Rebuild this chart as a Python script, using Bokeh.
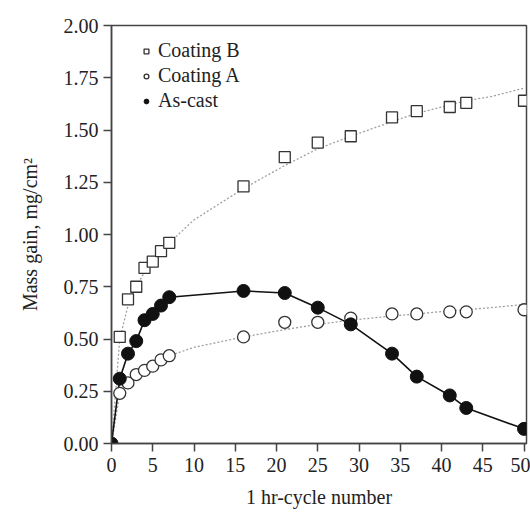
from bokeh.plotting import figure
from bokeh.models import Legend, LegendItem, FixedTicker, NumeralTickFormatter, Range1d
from bokeh.embed import file_html
from bokeh.resources import INLINE

# ---- data ----
cycles = [0, 1, 2, 3, 4, 5, 6, 7, 16, 21, 25, 29, 34, 37, 41, 43, 50]
coating_b = [None, 0.51, 0.69, 0.75, 0.84, 0.87, 0.92, 0.96, 1.23, 1.37, 1.44, 1.47, 1.56, 1.59, 1.61, 1.63, 1.64]
coating_a = [None, 0.24, 0.29, 0.33, 0.35, 0.37, 0.40, 0.42, 0.51, 0.58, 0.58, 0.60, 0.62, 0.62, 0.63, 0.63, 0.64]
as_cast = [0.0, 0.31, 0.43, 0.49, 0.59, 0.62, 0.66, 0.70, 0.73, 0.72, 0.65, 0.57, 0.43, 0.32, 0.23, 0.17, 0.07]

# dotted trend curves
fit_x = [0, 1, 2, 3, 4, 5, 6, 7, 10, 16, 21, 25, 29, 34, 37, 41, 43, 46, 50]
fit_b = [0, 0.50, 0.66, 0.75, 0.82, 0.87, 0.92, 0.96, 1.07, 1.22, 1.33, 1.41, 1.47, 1.54, 1.58, 1.62, 1.64, 1.66, 1.70]
fit_a = [0, 0.24, 0.29, 0.33, 0.35, 0.38, 0.40, 0.42, 0.46, 0.51, 0.545, 0.57, 0.59, 0.61, 0.62, 0.635, 0.64, 0.65, 0.665]

x_ticks = [0, 5, 10, 15, 20, 25, 30, 35, 40, 45, 50]
y_ticks = [0.0, 0.25, 0.5, 0.75, 1.0, 1.25, 1.5, 1.75, 2.0]

FONT = "'Liberation Serif', 'Times New Roman', serif"
AX = "#444444"

p = figure(width=530, height=513, output_backend="svg", toolbar_location=None,
           x_range=Range1d(0, 50.3), y_range=Range1d(0, 2.0),
           min_border_left=111, min_border_right=4, min_border_top=25, min_border_bottom=70)
p.grid.visible = False
p.outline_line_color = AX
p.outline_line_width = 1.5
p.background_fill_color = "white"
p.border_fill_color = "white"

# trend curves
p.line(fit_x, fit_b, line_color="#a0a0a0", line_width=1.3, line_dash="2 2")
p.line(fit_x, fit_a, line_color="#a0a0a0", line_width=1.3, line_dash="2 2")
# as-cast solid line
p.line(cycles, as_cast, line_color="#111111", line_width=1.6)

bx = [c for c, v in zip(cycles, coating_b) if v is not None]
by = [v for v in coating_b if v is not None]
ax_ = [c for c, v in zip(cycles, coating_a) if v is not None]
ay = [v for v in coating_a if v is not None]

rb = p.scatter(bx, by, marker="square", size=11, fill_color="white", line_color="#333333", line_width=1.3)
ra = p.scatter(ax_, ay, marker="circle", size=12, fill_color="white", line_color="#333333", line_width=1.3)
rc = p.scatter(cycles, as_cast, marker="circle", size=13, fill_color="#111111", line_color="#111111")

legend = Legend(items=[LegendItem(label="Coating B", renderers=[rb]),
                       LegendItem(label="Coating A", renderers=[ra]),
                       LegendItem(label="As-cast", renderers=[rc])],
                location=(29, 331), border_line_color=None, background_fill_alpha=0,
                glyph_width=12, glyph_height=14, label_standoff=6, spacing=2,
                label_text_font=FONT, label_text_font_size="20px", label_text_color="#222222",
                padding=6, margin=0, label_height=20)
p.add_layout(legend)

for ax in (p.xaxis, p.yaxis):
    ax.axis_line_color = AX
    ax.axis_line_width = 1.5
    ax.major_tick_line_color = AX
    ax.major_tick_line_width = 1.5
    ax.major_tick_in = 0
    ax.major_tick_out = 8
    ax.minor_tick_line_color = None
    ax.major_label_text_font = FONT
    ax.major_label_text_font_size = "20px"
    ax.major_label_text_color = "#222222"
    ax.axis_label_text_font = FONT
    ax.axis_label_text_font_size = "20px"
    ax.axis_label_text_font_style = "normal"
    ax.axis_label_text_color = "#222222"

p.xaxis.ticker = FixedTicker(ticks=x_ticks)
p.yaxis.ticker = FixedTicker(ticks=y_ticks)
p.yaxis.formatter = NumeralTickFormatter(format="0.00")
p.xaxis.axis_label = "1 hr-cycle number"
p.yaxis.axis_label = "Mass gain, mg/cm\u00b2"
p.xaxis.major_label_standoff = 6
p.yaxis.major_label_standoff = 5
p.xaxis.axis_label_standoff = 11
p.yaxis.axis_label_standoff = 20

open("out.html", "w").write(file_html(p, INLINE))
